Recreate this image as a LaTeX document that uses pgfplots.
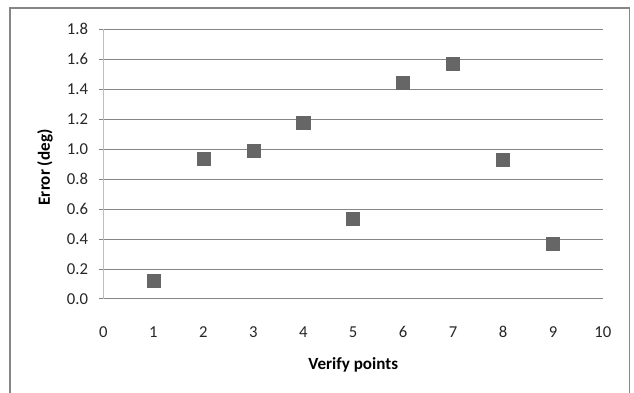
\documentclass[border=0pt]{standalone}
\usepackage{pgfplots}
\pgfplotsset{compat=1.18}
\usepackage{fontspec}
\setmainfont{Carlito}
\definecolor{gridc}{HTML}{868686}
\definecolor{markc}{HTML}{666666}
\definecolor{axisc}{HTML}{BEBEBE}
\begin{document}
\begin{tikzpicture}
\useasboundingbox (0,0) rectangle (475.5pt,294pt);
\draw[gridc, line width=0.9pt] (7.5pt,-5pt) rectangle (472.1pt,288pt);
\begin{axis}[
  at={(77.6pt,69.75pt)}, anchor=south west,
  scale only axis,
  width=374.6pt, height=202.3pt,
  xmin=0, xmax=10, ymin=0, ymax=1.8,
  xtick={0,1,...,10},
  ytick={0,0.2,...,1.8},
  /pgf/number format/fixed,
  /pgf/number format/assume math mode=true,
  yticklabel style={/pgf/number format/fixed zerofill, /pgf/number format/precision=1, xshift=-4.5pt},
  ticklabel style={font=\fontsize{12.5}{14}\selectfont, text=black!85},
  axis line style={draw=none},
  axis x line*=bottom, axis y line*=left,
  ymajorgrids,
  grid style={gridc, line width=0.75pt},
  major tick length=3.5pt,
  ytick style={gridc, line width=0.75pt},
  xtick style={draw=none},
  tick align=outside,
  xticklabel style={anchor=center, yshift=-21.5pt},
  xlabel={\textbf{Verify points}},
  ylabel={\textbf{Error (deg)}},
  label style={font=\fontsize{12.8}{14}\selectfont},
  xlabel style={at={(axis description cs:0.5,0)}, anchor=center, yshift=-49.5pt},
  ylabel style={at={(axis description cs:0,0.5)}, anchor=center, yshift=43.9pt, xshift=-2.5pt},
  clip=false,
]
\draw[axisc, line width=1.1pt] (axis cs:0,0) -- (axis cs:0,1.8);
\addplot[only marks, mark=square*, mark size=4.9pt, mark options={fill=markc, draw=markc}]
coordinates {
(1,0.12) (2,0.933) (3,0.989) (4,1.173) (5,0.533) (6,1.44) (7,1.567) (8,0.932) (9,0.369)
};
\end{axis}
\end{tikzpicture}
\end{document}
